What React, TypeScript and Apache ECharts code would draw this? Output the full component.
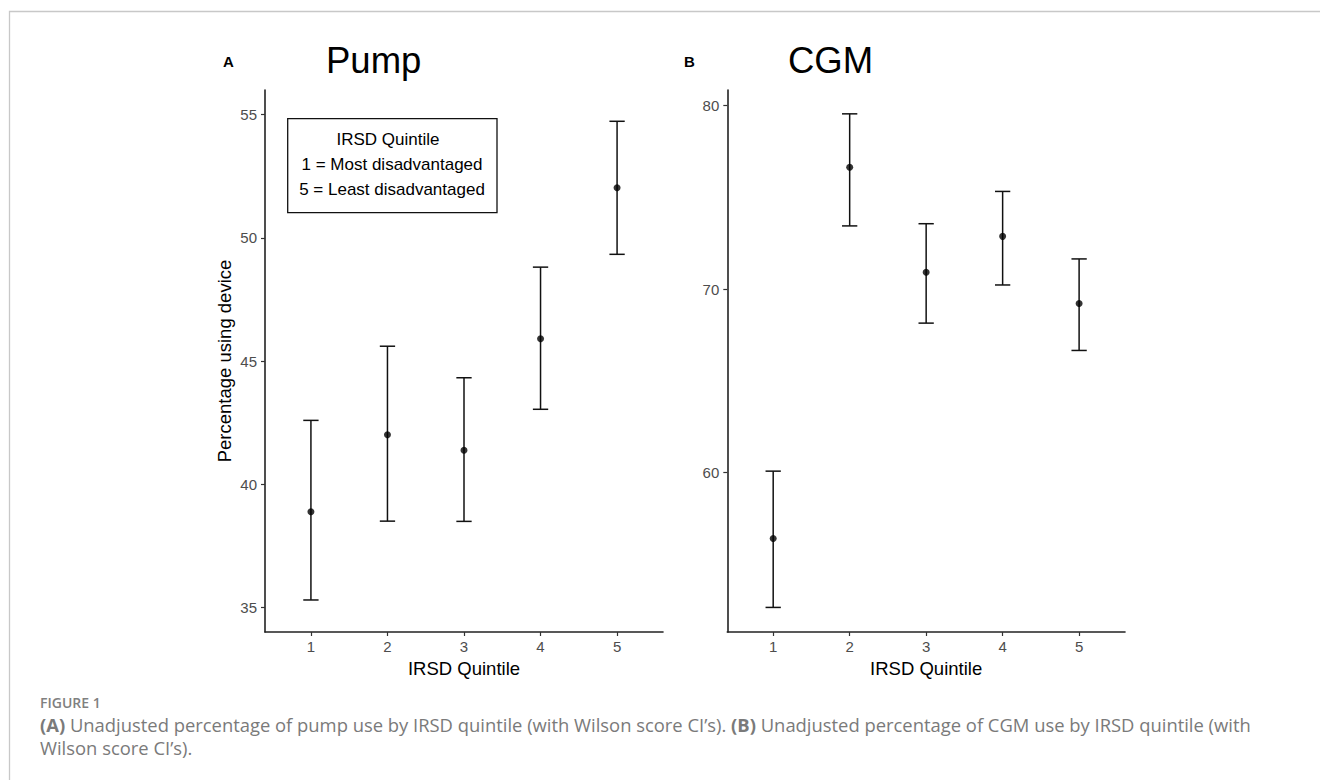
import React, { useEffect, useRef } from "react";
import * as echarts from "echarts";

const quintiles = [1, 2, 3, 4, 5];
const pumpEst = [38.88, 42.01, 41.38, 45.9, 52.03];
const pumpLow = [35.3, 38.5, 38.49, 43.04, 49.33];
const pumpHigh = [42.59, 45.6, 44.32, 48.81, 54.73];
const cgmEst = [56.4, 76.64, 70.91, 72.87, 69.21];
const cgmLow = [52.64, 73.44, 68.14, 70.22, 66.65];
const cgmHigh = [60.07, 79.55, 73.56, 75.32, 71.64];
const pumpTicks = [35, 40, 45, 50, 55];
const cgmTicks = [60, 70, 80];

const FONT = "'Liberation Sans', Arial, Helvetica, sans-serif";
const CAPFONT = "'Open Sans', 'Noto Sans', sans-serif";
const CAPSIZE = 18.4;

function xAxis(gridIndex: number) {
  return {
    type: "value",
    gridIndex,
    min: 0.4,
    max: 5.6,
    name: "IRSD Quintile",
    nameLocation: "middle",
    nameGap: 25,
    nameTextStyle: { fontFamily: FONT, fontSize: 18.5, color: "#000" },
    axisLine: { show: true, onZero: false, lineStyle: { color: "#222", width: 1.6 } },
    axisTick: { show: true, length: 4, customValues: quintiles, lineStyle: { color: "#333", width: 1.2 } },
    axisLabel: { customValues: quintiles, margin: 7, fontFamily: FONT, fontSize: 15, color: "#4d4d4d" },
    splitLine: { show: false },
  };
}

function yAxis(gridIndex: number, min: number, max: number, ticks: number[], name: string) {
  return {
    type: "value",
    gridIndex,
    min,
    max,
    name,
    nameLocation: "middle",
    nameGap: 31,
    nameTextStyle: { fontFamily: FONT, fontSize: 18.5, color: "#000" },
    axisLine: { show: true, onZero: false, lineStyle: { color: "#222", width: 1.6 } },
    axisTick: { show: true, length: 4, customValues: ticks, lineStyle: { color: "#333", width: 1.2 } },
    axisLabel: { customValues: ticks, margin: 8, fontFamily: FONT, fontSize: 15, color: "#4d4d4d" },
    splitLine: { show: false },
  };
}

function errorBars(idx: number, low: number[], high: number[]) {
  return {
    type: "custom",
    xAxisIndex: idx,
    yAxisIndex: idx,
    data: quintiles.map((q, i) => [q, low[i], high[i]]),
    encode: { x: 0, y: [1, 2] },
    renderItem: (params: any, api: any) => {
      const x = api.value(0);
      const lo = api.coord([x, api.value(1)]);
      const hi = api.coord([x, api.value(2)]);
      const half = api.coord([x + 0.1, api.value(1)])[0] - lo[0];
      const style = { stroke: "#111", lineWidth: 1.5, fill: "none" };
      return {
        type: "group",
        children: [
          { type: "line", shape: { x1: lo[0], y1: lo[1], x2: hi[0], y2: hi[1] }, style },
          { type: "line", shape: { x1: lo[0] - half, y1: lo[1], x2: lo[0] + half, y2: lo[1] }, style },
          { type: "line", shape: { x1: hi[0] - half, y1: hi[1], x2: hi[0] + half, y2: hi[1] }, style },
        ],
      };
    },
    z: 2,
  };
}

function points(idx: number, est: number[]) {
  return {
    type: "scatter",
    xAxisIndex: idx,
    yAxisIndex: idx,
    data: quintiles.map((q, i) => [q, est[i]]),
    symbol: "circle",
    symbolSize: 7,
    itemStyle: { color: "#000" },
    z: 3,
  };
}

export default function App() {
  const ref = useRef<HTMLDivElement>(null);
  useEffect(() => {
    if (!ref.current) return;
    const chart = echarts.init(ref.current, undefined, { renderer: "svg" });
    const option: any = {
      animation: false,
      backgroundColor: "#fff",
      grid: [
        { left: 265, top: 90, width: 398, height: 542 },
        { left: 727.3, top: 90, width: 397.7, height: 542 },
      ],
      xAxis: [xAxis(0), xAxis(1)],
      yAxis: [
        yAxis(0, 34, 56, pumpTicks, "Percentage using device"),
        yAxis(1, 51.3, 80.85, cgmTicks, ""),
      ],
      series: [
        errorBars(0, pumpLow, pumpHigh),
        points(0, pumpEst),
        errorBars(1, cgmLow, cgmHigh),
        points(1, cgmEst),
      ],
      graphic: [
        {
          type: "rect",
          shape: { x: 9.5, y: 11.5, width: 1400, height: 900 },
          style: { fill: "none", stroke: "#c8c8c8", lineWidth: 1.3 },
          silent: true,
        },
        {
          type: "text",
          x: 223,
          y: 61,
          style: { text: "A", fontFamily: FONT, fontSize: 15, fontWeight: "bold", fill: "#000", textAlign: "left", align: "left", textVerticalAlign: "middle", verticalAlign: "middle" },
        },
        {
          type: "text",
          x: 684,
          y: 61,
          style: { text: "B", fontFamily: FONT, fontSize: 15, fontWeight: "bold", fill: "#000", textAlign: "left", align: "left", textVerticalAlign: "middle", verticalAlign: "middle" },
        },
        {
          type: "text",
          x: 326,
          y: 60,
          style: { text: "Pump", fontFamily: FONT, fontSize: 36.5, fill: "#000", textAlign: "left", align: "left", textVerticalAlign: "middle", verticalAlign: "middle" },
        },
        {
          type: "text",
          x: 788,
          y: 60,
          style: { text: "CGM", fontFamily: FONT, fontSize: 36.5, fill: "#000", textAlign: "left", align: "left", textVerticalAlign: "middle", verticalAlign: "middle" },
        },
        {
          type: "rect",
          shape: { x: 287.7, y: 118.7, width: 209.3, height: 94 },
          style: { fill: "#fff", stroke: "#111", lineWidth: 1.3 },
          z: 10,
        },
        {
          type: "text",
          x: 388,
          y: 139,
          z: 11,
          style: { text: "IRSD Quintile", fontFamily: FONT, fontSize: 17, fill: "#000", textAlign: "center", align: "center", textVerticalAlign: "middle", verticalAlign: "middle" },
        },
        {
          type: "text",
          x: 392,
          y: 164,
          z: 11,
          style: { text: "1 = Most disadvantaged", fontFamily: FONT, fontSize: 17, fill: "#000", textAlign: "center", align: "center", textVerticalAlign: "middle", verticalAlign: "middle" },
        },
        {
          type: "text",
          x: 392,
          y: 189,
          z: 11,
          style: { text: "5 = Least disadvantaged", fontFamily: FONT, fontSize: 17, fill: "#000", textAlign: "center", align: "center", textVerticalAlign: "middle", verticalAlign: "middle" },
        },
        {
          type: "text",
          x: 40,
          y: 702,
          style: { text: "FIGURE 1", fontFamily: CAPFONT, fontSize: 14, fontWeight: 600, fill: "#808080", textAlign: "left", align: "left", textVerticalAlign: "middle", verticalAlign: "middle" },
        },
        {
          type: "text",
          x: 40,
          y: 724.5,
          style: {
            text: "{b|(A)} Unadjusted percentage of pump use by IRSD quintile (with Wilson score CI\u2019s). {b|(B)} Unadjusted percentage of CGM use by IRSD quintile (with",
            fontFamily: CAPFONT,
            fontSize: CAPSIZE,
            lineHeight: 18,
            fill: "#7a7a7a",
            textAlign: "left",
            align: "left",
            textVerticalAlign: "middle",
            verticalAlign: "middle",
            rich: { b: { fontFamily: CAPFONT, fontSize: CAPSIZE, lineHeight: 18, fontWeight: "bold", fill: "#7a7a7a", color: "#7a7a7a" } },
          },
        },
        {
          type: "text",
          x: 40,
          y: 747,
          style: { text: "Wilson score CI\u2019s).", fontFamily: CAPFONT, fontSize: CAPSIZE, lineHeight: 18, fill: "#7a7a7a", textAlign: "left", align: "left", textVerticalAlign: "middle", verticalAlign: "middle" },
        },
      ],
    };
    chart.setOption(option);
    return () => chart.dispose();
  }, []);
  return (
    <div
      ref={ref}
      style={{ position: "absolute", left: 0, top: 0, width: 1320, height: 780, background: "#fff" }}
    />
  );
}
